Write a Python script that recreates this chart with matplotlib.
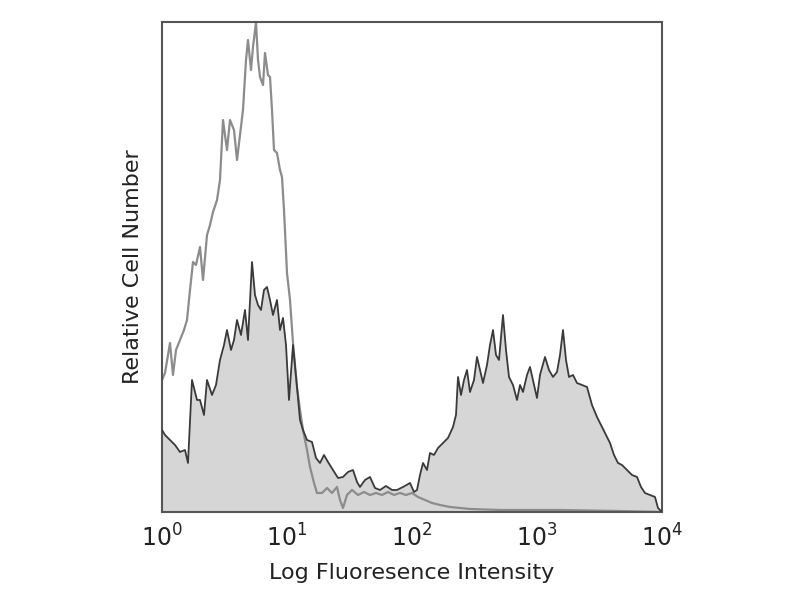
import numpy as np
import matplotlib
matplotlib.use("Agg")
import matplotlib.pyplot as plt
from matplotlib.ticker import FixedLocator, FuncFormatter, NullLocator

# Stained sample (filled histogram) : log10 intensity, relative counts
stained_log = [0.000, 0.024, 0.064, 0.104, 0.144, 0.184, 0.208, 0.240, 0.280, 0.304,
               0.336, 0.360, 0.400, 0.432, 0.464, 0.496, 0.520, 0.552, 0.576, 0.600,
               0.632, 0.664, 0.688, 0.720, 0.744, 0.768, 0.792, 0.816, 0.840, 0.864,
               0.888, 0.920, 0.944, 0.968, 0.992, 1.016, 1.048, 1.080, 1.104, 1.128,
               1.160, 1.200, 1.232, 1.264, 1.296, 1.328, 1.368, 1.408, 1.448, 1.488,
               1.528, 1.560, 1.584, 1.624, 1.664, 1.704, 1.744, 1.792, 1.840, 1.880,
               1.928, 1.984, 2.016, 2.040, 2.064, 2.088, 2.120, 2.144, 2.176, 2.208,
               2.248, 2.288, 2.328, 2.352, 2.368, 2.392, 2.416, 2.440, 2.464, 2.496,
               2.520, 2.544, 2.568, 2.600, 2.624, 2.648, 2.672, 2.696, 2.728, 2.752,
               2.776, 2.808, 2.840, 2.864, 2.888, 2.920, 2.944, 2.976, 3.000, 3.024,
               3.064, 3.096, 3.128, 3.160, 3.184, 3.208, 3.232, 3.256, 3.288, 3.320,
               3.360, 3.400, 3.440, 3.480, 3.520, 3.552, 3.584, 3.616, 3.648, 3.680,
               3.720, 3.760, 3.800, 3.832, 3.864, 3.904, 3.944, 3.968, 4.000]
stained_counts = [82, 77, 72, 67, 60, 62, 49, 132, 112, 112,
                  97, 132, 117, 127, 152, 167, 182, 162, 172, 192,
                  177, 202, 172, 250, 217, 207, 202, 222, 225, 212,
                  197, 212, 182, 194, 167, 112, 167, 125, 92, 82,
                  72, 70, 54, 49, 57, 50, 42, 34, 35, 40,
                  42, 30, 25, 32, 35, 24, 22, 26, 22, 22,
                  25, 29, 20, 22, 37, 49, 42, 59, 57, 64,
                  69, 74, 85, 97, 135, 117, 132, 142, 120, 132,
                  155, 142, 129, 147, 167, 182, 157, 152, 197, 162,
                  135, 127, 112, 127, 120, 137, 145, 127, 114, 137,
                  155, 142, 135, 140, 157, 182, 152, 135, 137, 129,
                  127, 125, 107, 95, 85, 77, 69, 57, 49, 47,
                  42, 37, 35, 25, 19, 17, 15, 4, 0]

# Control sample (open gray histogram)
control_log = [0.000, 0.024, 0.048, 0.064, 0.088, 0.112, 0.144, 0.176, 0.200, 0.224,
               0.248, 0.272, 0.304, 0.328, 0.360, 0.384, 0.408, 0.440, 0.464, 0.488,
               0.520, 0.544, 0.576, 0.600, 0.624, 0.648, 0.672, 0.688, 0.712, 0.728,
               0.752, 0.768, 0.784, 0.808, 0.824, 0.848, 0.864, 0.880, 0.896, 0.920,
               0.944, 0.960, 0.976, 1.000, 1.024, 1.048, 1.080, 1.104, 1.128, 1.160,
               1.184, 1.216, 1.240, 1.280, 1.320, 1.360, 1.400, 1.424, 1.448, 1.480,
               1.520, 1.568, 1.616, 1.664, 1.712, 1.760, 1.808, 1.856, 1.904, 1.952,
               2.000, 2.048, 2.104, 2.160, 2.224, 2.304, 2.464, 2.704, 3.184, 3.648, 4.000]
control_counts = [132, 139, 157, 169, 137, 162, 172, 182, 192, 222,
                  250, 247, 265, 232, 277, 287, 300, 312, 332, 392,
                  362, 392, 382, 352, 377, 402, 452, 472, 442, 465,
                  490, 452, 435, 427, 459, 437, 435, 402, 362, 359,
                  342, 335, 302, 239, 212, 169, 125, 102, 82, 62,
                  45, 29, 19, 19, 24, 19, 25, 12, 4, 17,
                  22, 17, 20, 17, 19, 17, 20, 17, 19, 17,
                  19, 15, 12, 9, 7, 5, 3, 2, 2, 1, 0]

tick_exponents = [0, 1, 2, 3, 4]
x_label = "Log Fluoresence Intensity"
y_label = "Relative Cell Number"

plt.rcParams['mathtext.default'] = 'regular'
plt.rcParams['font.family'] = ['DejaVu Sans']

fig = plt.figure(figsize=(8, 6), dpi=100)
ax = fig.add_axes([0.2025, 0.1467, 0.625, 0.8166])

sx = 10 ** np.array(stained_log)
sy = np.array(stained_counts)
cx = 10 ** np.array(control_log)
cy = np.array(control_counts)

ax.fill_between(sx, 0, sy, color='#d6d6d6', linewidth=0, zorder=1)
ax.plot(cx, cy, color='#8c8c8c', linewidth=1.6, zorder=2)
ax.plot(sx, sy, color='#3a3a3a', linewidth=1.3, zorder=3)

ax.set_xscale('log')
ax.set_xlim(1, 1e4)
ax.set_ylim(0, 490)

ax.xaxis.set_major_locator(FixedLocator([10.0 ** e for e in tick_exponents]))
ax.xaxis.set_minor_locator(NullLocator())
ax.xaxis.set_major_formatter(FuncFormatter(lambda v, p: r'$10^{%d}$' % round(np.log10(v))))
ax.yaxis.set_major_locator(NullLocator())
ax.yaxis.set_minor_locator(NullLocator())
ax.tick_params(axis='x', length=0, pad=9, labelsize=17, labelcolor='#222222')

for s in ax.spines.values():
    s.set_color('#555555')
    s.set_linewidth(1.5)

ax.set_xlabel(x_label, fontsize=16, color='#222222', labelpad=8)
ax.set_ylabel(y_label, fontsize=16, color='#222222', labelpad=14)

fig.savefig('out.png', dpi=100)
